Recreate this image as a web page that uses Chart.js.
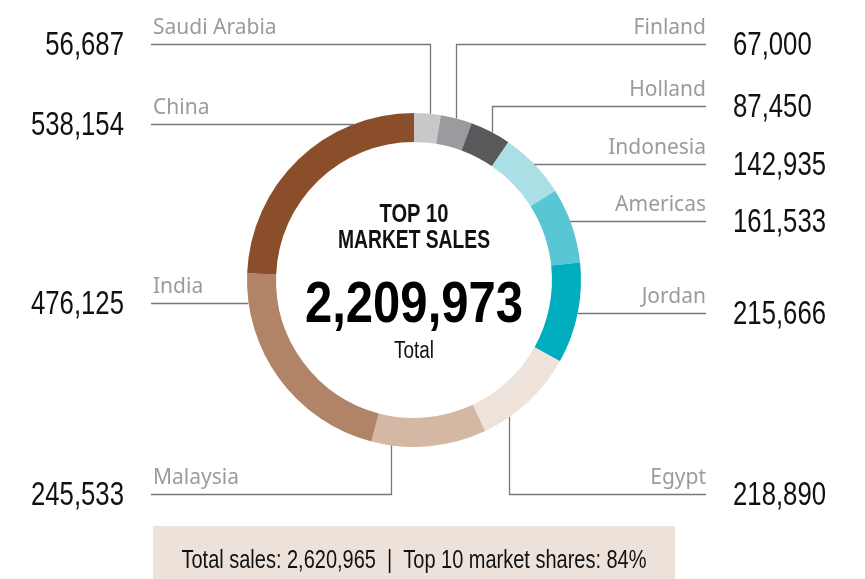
<!DOCTYPE html>
<html>
<head>
<meta charset="utf-8">
<script src="https://cdn.jsdelivr.net/npm/chart.js@4/dist/chart.umd.min.js"></script>
<style>
  html, body { margin:0; padding:0; background:#fff; }
  #wrap { position:relative; width:865px; height:579px; }
</style>
</head>
<body>
<div id="wrap"><canvas id="sales"></canvas></div>
<script>
/* Top 10 markets — doughnut with leader-line labels. */
const COUNTRIES = ["Saudi Arabia","Finland","Holland","Indonesia","Americas","Jordan","Egypt","Malaysia","India","China"];
const SALES = [56687, 67000, 87450, 142935, 161533, 215666, 218890, 245533, 476125, 538154];
const SLICE_COLORS = ["#c8c8ca","#9a9b9e","#58595b","#aadfe6","#58c6d3","#00adbf","#ede3da","#d5b8a4","#b18467","#8a4e2b"];
const TOTAL_SALES = 2620965;

const fmt = new Intl.NumberFormat("en-US");
const TOP10 = SALES.reduce((a, b) => a + b, 0);
const SHARE = Math.round(TOP10 / TOTAL_SALES * 100);

// where each leader leaves its slice (fraction along the arc) and the row it bends to
const LEADERS = [
  { side:"left",  t:0.60, row:44 },
  { side:"right", t:0.50, row:44 },
  { side:"right", t:0.54, row:106 },
  { side:"right", t:0.50 },
  { side:"right", t:0.44 },
  { side:"right", t:0.50 },
  { side:"right", t:0.73, row:494 },
  { side:"left",  t:0.83, row:494 },
  { side:"left",  t:0.87 },
  { side:"left",  t:0.76 },
];
const LEFT_X = 151, RIGHT_X = 706;
const LABEL_FONT = '21px "Noto Sans", "Open Sans", sans-serif';
const NUM = '"Liberation Sans", Arial, sans-serif';

function squeezed(ctx, text, x, y, font, color, align, sx){
  ctx.save();
  ctx.font = font; ctx.fillStyle = color; ctx.textAlign = align;
  ctx.translate(x, y); ctx.scale(sx, 1);
  ctx.fillText(text, 0, 0);
  ctx.restore();
}
function fitted(ctx, text, cx, y, font, color, width){
  ctx.save(); ctx.font = font;
  const sx = width / ctx.measureText(text).width;
  ctx.restore();
  squeezed(ctx, text, cx, y, font, color, "center", sx);
}

const leaders = {
  id: "leaders",
  beforeDraw(chart){
    const ctx = chart.ctx;
    ctx.save();
    ctx.fillStyle = "#ece2da";
    ctx.fillRect(153, 526, 522, 53);
    ctx.restore();
    ctx.save(); ctx.textBaseline = "alphabetic";
    fitted(ctx, "Total sales: " + fmt.format(TOTAL_SALES) + "  |  Top 10 market shares: " + SHARE + "%",
      414, 568, "26px " + NUM, "#111", 465);
    ctx.restore();
  },
  afterDatasetsDraw(chart){
    const ctx = chart.ctx;
    const arcs = chart.getDatasetMeta(0).data;
    arcs.forEach((arc, i) => {
      const L = LEADERS[i];
      const p = arc.getProps(["x","y","startAngle","endAngle","outerRadius"], true);
      const a = p.startAngle + L.t * (p.endAngle - p.startAngle);
      const ax = p.x + p.outerRadius * Math.cos(a), ay = p.y + p.outerRadius * Math.sin(a);
      const rowY = L.row != null ? L.row : Math.round(ay);
      const endX = L.side === "left" ? LEFT_X : RIGHT_X;
      ctx.save();
      ctx.strokeStyle = "#777"; ctx.lineWidth = 1.3;
      ctx.beginPath();
      if (L.row != null){
        const vx = Math.round(ax) + 0.5;
        ctx.moveTo(vx, ay); ctx.lineTo(vx, rowY + 0.5);
      } else {
        ctx.moveTo(ax, rowY + 0.5);
      }
      ctx.lineTo(endX, rowY + 0.5);
      ctx.stroke();
      ctx.restore();

      ctx.save();
      ctx.textBaseline = "alphabetic";
      if (L.side === "left"){
        squeezed(ctx, COUNTRIES[i], LEFT_X + 2, rowY - 10, LABEL_FONT, "#9b9b9b", "left", 1);
        ctx.textBaseline = "middle";
        squeezed(ctx, fmt.format(SALES[i]), 124, rowY + 2, "33px " + NUM, "#111", "right", 0.78);
      } else {
        squeezed(ctx, COUNTRIES[i], RIGHT_X, rowY - 10, LABEL_FONT, "#9b9b9b", "right", 1);
        ctx.textBaseline = "middle";
        squeezed(ctx, fmt.format(SALES[i]), 733, rowY + 2, "33px " + NUM, "#111", "left", 0.78);
      }
      ctx.restore();
    });

    // centre block
    const cx = arcs[0].x;
    ctx.save();
    ctx.textBaseline = "alphabetic";
    fitted(ctx, "TOP 10", cx, 222, "bold 26px " + NUM, "#111", 69);
    fitted(ctx, "MARKET SALES", cx, 248, "bold 26px " + NUM, "#111", 152);
    fitted(ctx, fmt.format(TOP10), cx, 322, "bold 58px " + NUM, "#000", 218);
    fitted(ctx, "Total", cx, 358, "23px " + NUM, "#111", 40);
    ctx.restore();
  }
};

new Chart(document.getElementById("sales"), {
  type: "doughnut",
  data: {
    labels: COUNTRIES,
    datasets: [{ data: SALES, backgroundColor: SLICE_COLORS, borderWidth: 0 }]
  },
  options: {
    responsive: true, maintainAspectRatio: false, animation: false,
    cutout: "82.6%",
    layout: { padding: { left: 247, right: 284, top: 113, bottom: 132 } },
    plugins: { legend: { display: false }, tooltip: { enabled: false } }
  },
  plugins: [leaders]
});
</script>
</body>
</html>
